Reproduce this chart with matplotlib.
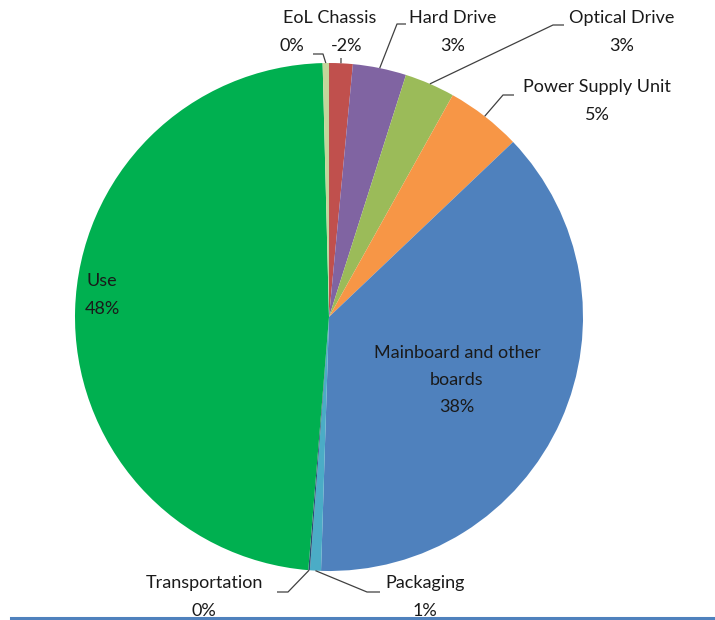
import numpy as np
import matplotlib.pyplot as plt

plt.rcParams['font.family'] = ['Lato', 'DejaVu Sans']

# share of impact per life-cycle stage (%), clockwise from 12 o'clock
names = ['', 'Hard Drive', 'Optical Drive', 'Power Supply Unit',
         'Mainboard and other\nboards', 'Packaging', 'Transportation', 'Use', 'EoL Chassis']
values = [-1.5, 3.4, 3.2, 4.8, 37.6, 0.7, 0.1, 48.3, 0.4]
colors = ['#C0504D', '#8064A2', '#9BBB59', '#F79646', '#4F81BD',
          '#4BACC6', '#2C4D75', '#00B050', '#C3D69B']

W, H = 715, 620
def Y(py):
    return H - py

fig = plt.figure(figsize=(7.15, 6.2), dpi=100)
ax = fig.add_axes([0, 0, 1, 1])
cx, cy, r = 329, Y(317), 254

wedges, _ = ax.pie(np.abs(values), colors=colors, startangle=90, counterclock=False,
                   center=(cx, cy), radius=r, wedgeprops=dict(linewidth=0))

ax.set_xlim(0, W)
ax.set_ylim(0, H)
ax.set_aspect('equal')
ax.axis('off')

txt = dict(fontsize=13, color='#1a1a1a', ha='center', va='center', linespacing=1.85)
pct = [f'{v:.0f}%' for v in values]

def anchor(i):
    w = wedges[i]
    a = np.radians((w.theta1 + w.theta2) / 2)
    return cx + r * np.cos(a), cy + r * np.sin(a)

def leader(i, pts):
    ax0, ay0 = anchor(i)
    xs = [p[0] for p in pts] + [ax0]
    ys = [Y(p[1]) for p in pts] + [ay0]
    ax.plot(xs, ys, color='#404040', lw=0.9, solid_capstyle='butt')

# outside labels with leader lines
ax.text(330, Y(18), names[8], **txt)
ax.text(292, Y(46), pct[8], **txt)
leader(8, [(313, 54), (323, 54)])
ax.text(347, Y(46), pct[0], **txt)
leader(0, [(341, 58)])

ax.text(453, Y(32), names[1] + '\n' + pct[1], **txt)
leader(1, [(406, 24), (397, 24)])
ax.text(622, Y(32), names[2] + '\n' + pct[2], **txt)
leader(2, [(564, 25), (553, 25)])
ax.text(597, Y(101), names[3] + '\n' + pct[3], **txt)
leader(3, [(514, 95), (503, 95)])

ax.text(204, Y(597), names[6] + '\n' + pct[6], **txt)
leader(6, [(277, 592), (288, 592)])
ax.text(425, Y(597), names[5] + '\n' + pct[5], **txt)
leader(5, [(380, 592), (367, 592)])

# inside labels
ax.text(102, Y(295), names[7] + '\n' + pct[7], **txt)
ax.text(457, Y(380), names[4] + '\n' + pct[4], **txt)

# blue rule at the bottom
ax.plot([11, 713], [Y(618), Y(618)], color='#4F81BD', lw=2.2, clip_on=False)

fig.savefig('out.png', dpi=100)
